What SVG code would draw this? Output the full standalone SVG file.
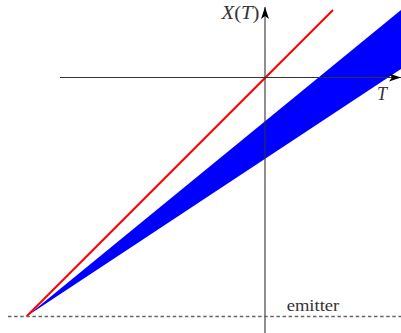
<svg xmlns="http://www.w3.org/2000/svg" width="401" height="333" viewBox="0 0 401 333">
<style>
.axis{stroke:#333;stroke-width:1.1;fill:none}
.lbl{font-family:"Liberation Serif","DejaVu Serif",serif;fill:#333}
</style>
<defs>
<marker id="arr" markerWidth="12" markerHeight="8" refX="12" refY="4" orient="auto" markerUnits="userSpaceOnUse">
<path d="M0,0 L12,4 L0,8 L3,4 Z" fill="#000"/>
</marker>
</defs>
<rect width="401" height="333" fill="#fff"/>
<g id="cone">
<polygon points="26.7,316.3 401,10 401,69" fill="#0000ff"/>
</g>
<g id="light">
<line x1="26.7" y1="316.3" x2="333" y2="10" stroke="#ff0000" stroke-width="2"/>
</g>
<g id="connectors">
<line class="axis" x1="60" y1="77.5" x2="401" y2="77.5" marker-end="url(#arr)"/>
<line class="axis" x1="265" y1="333" x2="265" y2="7" marker-end="url(#arr)"/>
<line x1="8" y1="316.5" x2="401" y2="316.5" stroke="#666" stroke-width="1.5" stroke-dasharray="3.5,2.6"/>
</g>
<g id="labels">
<text class="lbl" x="221.5" y="19" font-size="18" textLength="38" lengthAdjust="spacingAndGlyphs"><tspan font-style="italic">X</tspan>(<tspan font-style="italic">T</tspan>)</text>
<text class="lbl" x="377" y="100" font-size="18" font-style="italic">T</text>
<text class="lbl" x="286.7" y="310.7" font-size="16.5" textLength="52.6" lengthAdjust="spacingAndGlyphs">emitter</text>
</g>
</svg>
